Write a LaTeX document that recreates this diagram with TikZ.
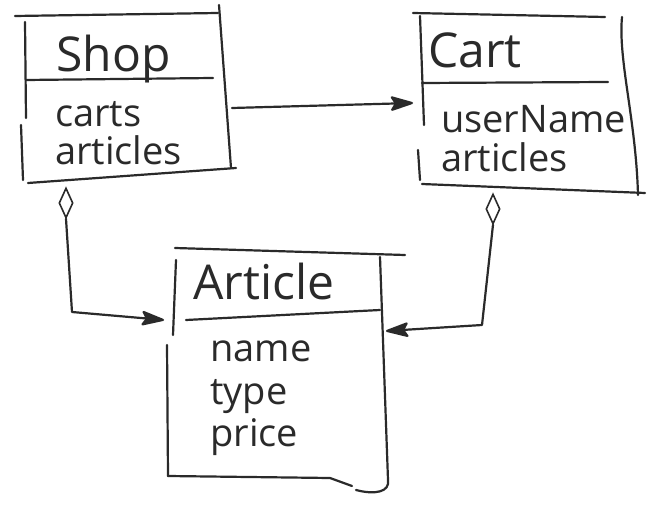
\documentclass[tikz,border=0pt]{standalone}
\usepackage{fontspec}
\setmainfont{Open Sans}
\usetikzlibrary{arrows.meta,shapes.geometric}
\definecolor{ink}{HTML}{2A2A2A}
\begin{document}
\begin{tikzpicture}[x=1pt,y=-1pt,
  pen/.style={line width=2.2pt, draw=ink, line cap=round, line join=round},
  ttl/.style={anchor=base west, inner sep=0pt, text=ink, font=\fontsize{48}{52}\selectfont},
  attr/.style={anchor=base west, inner sep=0pt, text=ink, font=\fontsize{38}{42}\selectfont},
  agg/.style={diamond, draw=ink, line width=1.6pt, fill=white, minimum width=14pt, minimum height=30pt, inner sep=0pt, aspect=0.5},
  conn/.style={pen, -{Stealth[length=26pt,width=16pt,inset=5pt,round]}}
]
\useasboundingbox (0,0) rectangle (663,510);
\fill[white] (0,0) rectangle (663,510);

% ---------- Shop ----------
\draw[pen] (15,16) -- (218,13);
\draw[pen] (25,22) -- (26,118);
\draw[pen] (21,125) -- (23,180);
\draw[pen] (219,5) -- (231,168);
\draw[pen] (26,80) -- (213,78);
\draw[pen] (28,183) -- (236,168);
\node[ttl] (shopT) at (56,72) {Shop};
\node[attr] (shopA1) at (55,127) {carts};
\node[attr] (shopA2) at (55,165) {articles};

% ---------- Cart ----------
\draw[pen] (413,13) -- (605,17);
\draw[pen] (420,16) -- (424,125);
\draw[pen] (418,150) -- (420,180);
\draw[pen] (622,17) .. controls (618,60) and (636,120) .. (638,195);
\draw[pen] (422,83) -- (608,82);
\draw[pen] (422,184) -- (645,193);
\node[ttl] (cartT) at (428,68) {Cart};
\node[attr] (cartA1) at (441,133) {userName};
\node[attr] (cartA2) at (441,172) {articles};

% ---------- Article ----------
\draw[pen] (175,248) -- (405,255);
\draw[pen] (176,260) -- (173,335);
\draw[pen] (167,345) -- (168,476);
\draw[pen] (380,257) -- (388,480) .. controls (390,492) and (375,495) .. (356,490);
\draw[pen] (186,320) -- (380,310);
\draw[pen] (168,476) -- (330,478) -- (352,486);
\node[ttl] (artT) at (193,299) {Article};
\node[attr] (artA1) at (210,361) {name};
\node[attr] (artA2) at (210,404) {type};
\node[attr] (artA3) at (210,446) {price};

% ---------- connectors ----------
\coordinate (shopE) at (232,108);
\coordinate (cartW) at (413,103);
\coordinate (artW) at (164,320);
\coordinate (artE) at (386,331);
\node[agg] (shopD) at (66,203) {};
\node[agg] (cartD) at (493,209) {};
\draw[conn] (shopE) -- (cartW);
\draw[conn] (shopD.south) -- (72,312) -- (artW);
\draw[conn] (cartD.south) -- (482,325) -- (artE);
\end{tikzpicture}
\end{document}
